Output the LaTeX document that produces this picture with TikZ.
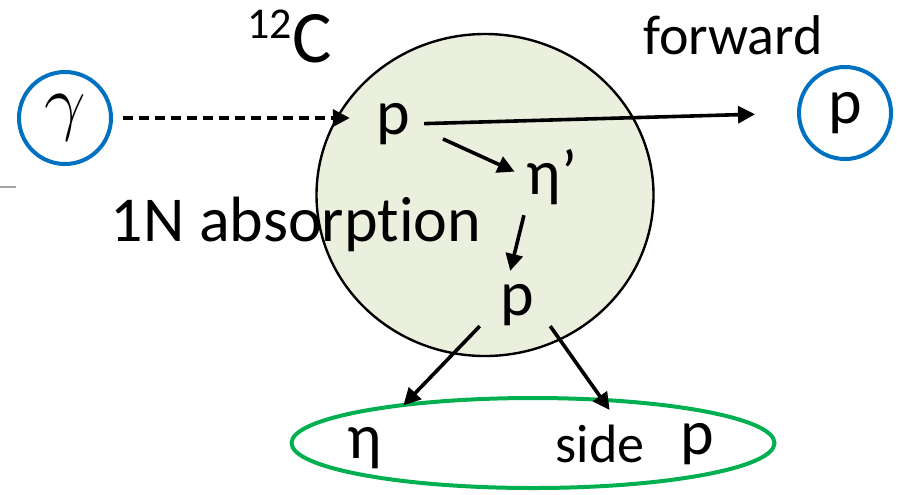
\documentclass[tikz,border=0pt]{standalone}
\usepackage{fix-cm}
\usepackage{fontspec}
\setmainfont{Carlito}[Ligatures=NoCommon]
\usetikzlibrary{arrows.meta,positioning,shapes.geometric}
\definecolor{ptblue}{HTML}{0070C0}
\definecolor{ptgreen}{HTML}{00B050}
\definecolor{nucfill}{HTML}{EBEFDE}
\tikzset{
  ptcl/.style={draw=ptblue, circle, line width=2pt, minimum size=46pt, inner sep=0pt, font=\fontsize{32}{38}\selectfont},
  lbl/.style={inner sep=0pt, font=\fontsize{32}{38}\selectfont},
  slbl/.style={inner sep=0pt, font=\fontsize{28}{34}\selectfont},
  arr/.style={-{Stealth[length=8.5pt, width=8.5pt, inset=0pt]}, line width=1.8pt},
  darr/.style={arr, dash pattern=on 5pt off 3pt},
}

\begin{document}
\begin{tikzpicture}[x=0.5pt, y=-0.5pt]
\useasboundingbox (0,0) rectangle (898,494);

\draw[black!35, line width=0.8pt] (0,187) -- (16,187);

% nucleus
\node[draw, ellipse, fill=nucfill, line width=1.2pt, minimum width=168.5pt, minimum height=161pt, inner sep=0pt] (nuc) at (485,195) {};
\node[draw=ptgreen, ellipse, line width=2pt, minimum width=241.5pt, minimum height=45pt, inner sep=0pt] (fin) at (533,443) {};

\node[ptcl] (gam) at (65,118) {\fontsize{37}{42}\selectfont$\gamma$};
\node[ptcl] (pf) at (845,113) {p};

\node[inner sep=0pt, anchor=base west] (c12) at (247,62) {\fontsize{22}{26}\selectfont\raisebox{12pt}{12}\fontsize{37}{44}\selectfont C};
\node[slbl] (fwd) at (733,35) {forward};
\node[lbl] (absn) at (296,224) {1N absorption};

\node[lbl] (p1) at (393,124) {p};
\node[lbl] (eta1) at (552,177) {η’};
\node[lbl] (p2) at (517,305) {p};
\node[lbl] (eta2) at (365,448) {η};
\node[slbl, font=\fontsize{27}{32}\selectfont] (side) at (600,444) {side};
\node[lbl] (p3) at (697,444) {p};

\draw[darr, shorten <=5pt, shorten >=13pt] (gam.east) -- (gam.east -| p1.west);
\draw[arr, shorten <=7pt, shorten >=21pt] (p1.east) -- (pf.west);
\draw[arr, shorten <=18pt, shorten >=6.5pt] (p1.east) -- (eta1.west);
\draw[arr, shorten <=5.2pt, shorten >=6.7pt] (eta1.south west) -- ([xshift=-5pt]p2.north);
\draw[arr, shorten >=15pt] ([xshift=-10pt]p2.south west) -- (eta2.north east);
\draw[arr, shorten >=9pt] ([xshift=8pt]p2.south east) -- ([xshift=10pt]side.north);

\end{tikzpicture}
\end{document}
